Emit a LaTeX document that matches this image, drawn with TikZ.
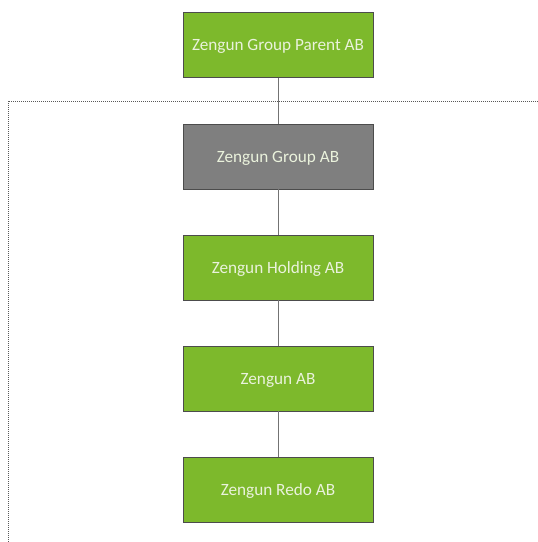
\documentclass[tikz,border=0pt]{standalone}
\usepackage{fontspec}
\setmainfont{Carlito}
\definecolor{zgreen}{HTML}{7DB92C}
\definecolor{zgray}{HTML}{7F7F7F}
\definecolor{ztext}{HTML}{EAF2DC}
\begin{document}
\begin{tikzpicture}[x=1pt,y=-1pt,
  ent/.style={draw=black!70,line width=0.8pt,fill=zgreen,minimum width=190pt,minimum height=65pt,inner sep=0pt,text=ztext,text depth=0pt,font=\fontsize{17.2}{20}\selectfont},
  grayent/.style={ent,fill=zgray},
  link/.style={draw=black!55,line width=1pt},
  bound/.style={draw=black!65,dash pattern=on 1pt off 1pt,line width=1pt}]
\useasboundingbox (0,0) rectangle (538,542);
\node[ent] (p) at (278,45) {Zengun Group Parent AB};
\node[grayent] (g) at (278,156.5) {Zengun Group AB};
\node[ent] (h) at (278,267.5) {Zengun Holding AB};
\node[ent] (z) at (278,378.5) {Zengun AB};
\node[ent] (r) at (278,489.5) {Zengun Redo AB};
\draw[link] (p) -- (g);
\draw[link] (g) -- (h);
\draw[link] (h) -- (z);
\draw[link] (z) -- (r);
\coordinate (b1) at (538,101);
\coordinate (b2) at (8,101);
\coordinate (b3) at (8,542);
\draw[bound] (b1) -- (b2) -- (b3);
\end{tikzpicture}
\end{document}
